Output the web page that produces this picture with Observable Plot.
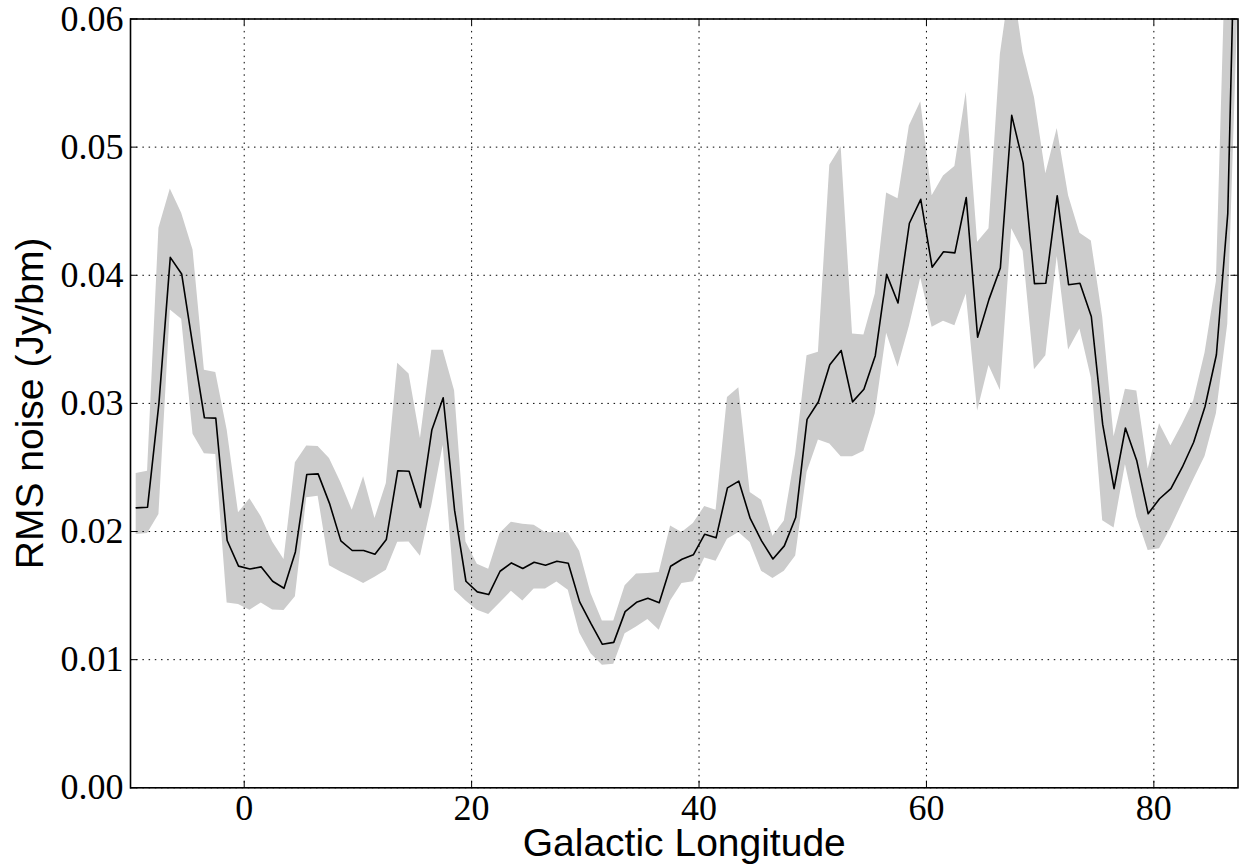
<!DOCTYPE html>
<html>
<head>
<meta charset="utf-8">
<script src="https://cdn.jsdelivr.net/npm/d3@7"></script>
<script src="https://cdn.jsdelivr.net/npm/@observablehq/plot@0.6"></script>
<style>html,body{margin:0;padding:0;background:#fff;overflow:hidden}svg{display:block}</style>
</head>
<body>
<div id="chart"></div>
<script>
const longitude = [-9.5,-8.5,-7.5,-6.5,-5.5,-4.5,-3.5,-2.5,-1.5,-0.5,0.5,1.5,2.5,3.5,4.5,5.5,6.5,7.5,8.5,9.5,10.5,11.5,12.5,13.5,14.5,15.5,16.5,17.5,18.5,19.5,20.5,21.5,22.5,23.5,24.5,25.5,26.5,27.5,28.5,29.5,30.5,31.5,32.5,33.5,34.5,35.5,36.5,37.5,38.5,39.5,40.5,41.5,42.5,43.5,44.5,45.5,46.5,47.5,48.5,49.5,50.5,51.5,52.5,53.5,54.5,55.5,56.5,57.5,58.5,59.5,60.5,61.5,62.5,63.5,64.5,65.5,66.5,67.5,68.5,69.5,70.5,71.5,72.5,73.5,74.5,75.5,76.5,77.5,78.5,79.5,80.5,81.5,82.5,83.5,84.5,85.5,86.5,87.5];
const rmsMean = [.02185,.0219,.03,.0414,.0401,.0344,.02888,.02885,.0193,.0173,.01708,.01724,.01612,.01557,.01841,.02445,.0245,.0222,.01927,.01852,.01852,.01823,.01938,.02474,.02471,.02188,.02792,.03044,.02167,.01612,.01529,.01508,.0169,.01755,.01711,.0176,.01737,.01768,.01753,.01451,.01281,.0112,.01135,.01375,.01448,.01479,.01445,.01729,.01784,.01818,.01979,.01951,.02341,.02393,.02102,.01927,.01786,.01888,.02109,.02875,.03013,.03302,.03413,.03012,.0311,.03372,.04007,.03784,.04406,.04593,.04063,.04183,.04175,.04607,.03517,.03812,.04057,.05248,.04877,.03935,.03938,.04621,.03926,.03938,.03678,.02836,.02335,.02808,.02552,.02139,.02256,.02335,.02502,.02697,.02976,.0338,.04481,.082];
const rmsUpper = [.02453,.02471,.04367,.04674,.04484,.04198,.03258,.03242,.02792,.02146,.02255,.02115,.01919,.01781,.02536,.02667,.02664,.0257,.02383,.02167,.02427,.02102,.02375,.03313,.03229,.02727,.03414,.03414,.03099,.01919,.01745,.01706,.01984,.02073,.02057,.02049,.01992,.0199,.0199,.01846,.01516,.01302,.01302,.01576,.01669,.01672,.0168,.02044,.01992,.02063,.02195,.02167,.03047,.03122,.02305,.02245,.01964,.02083,.02609,.03372,.034,.04858,.05003,.03542,.03533,.03854,.04643,.04598,.05164,.05354,.04621,.04774,.04849,.05429,.04258,.04364,.05722,.0635,.0574,.05387,.04793,.05145,.04621,.04328,.04267,.03673,.02739,.0311,.03096,.02488,.02842,.02669,.02836,.03018,.03394,.03952,.0705,.11];
const rmsLower = [.01977,.01984,.02133,.03729,.03656,.0276,.02607,.02602,.01443,.0143,.01385,.01443,.01388,.01383,.01492,.02263,.02276,.01732,.01685,.01641,.01594,.01643,.01698,.01917,.01919,.01807,.02206,.02674,.01542,.01458,.01385,.01352,.01443,.01534,.01458,.01552,.01552,.01607,.01542,.01208,.01047,.00956,.00964,.01203,.01255,.01313,.01229,.01458,.01594,.01609,.01794,.01768,.0194,.01992,.01914,.0169,.01633,.0169,.0181,.0246,.02714,.02683,.02583,.02583,.02627,.0292,.03547,.03282,.03603,.03979,.03595,.03642,.03606,.03854,.0294,.03296,.03101,.04364,.04188,.03263,.03372,.04147,.03416,.03581,.03199,.02084,.02028,.02524,.02112,.01852,.01866,.02028,.02217,.02404,.02585,.0292,.03617,.064];
const xTicks = [0,20,40,60,80];
const yTicks = [0,.01,.02,.03,.04,.05,.06];
const xLabel = "Galactic Longitude";
const yLabel = "RMS noise (Jy/bm)";

const rows = longitude.map((l,i)=>({l,mean:rmsMean[i],upper:rmsUpper[i],lower:rmsLower[i]}));
const serif = "'Liberation Serif', serif";
const sans = "'Liberation Sans', sans-serif";
const dash = "1.5 4.7";
const tickX = 0.62, tickY = 0.00052;
const xMin = -10, xMax = 87.4, yMax = 0.06;

const plot = Plot.plot({
  width: 1239, height: 867,
  marginLeft: 130, marginRight: 1.5, marginTop: 18.5, marginBottom: 79.7,
  x: {domain: [xMin, xMax]},
  y: {domain: [0, yMax]},
  marks: [
    Plot.areaY(rows, {x:"l", y1:"lower", y2:"upper", fill:"#cccccc", clip:true}),
    Plot.ruleX(xTicks, {stroke:"#000", strokeWidth:1, strokeDasharray:dash}),
    Plot.ruleY(yTicks, {stroke:"#000", strokeWidth:1, strokeDasharray:dash}),
    Plot.line(rows, {x:"l", y:"mean", stroke:"#000", strokeWidth:1.6, clip:true}),
    Plot.ruleX(xTicks, {y1:0, y2:tickY, stroke:"#000", strokeWidth:1}),
    Plot.ruleX(xTicks, {y1:yMax-tickY, y2:yMax, stroke:"#000", strokeWidth:1}),
    Plot.ruleY(yTicks, {x1:xMin, x2:xMin+tickX, stroke:"#000", strokeWidth:1}),
    Plot.ruleY(yTicks, {x1:xMax-tickX, x2:xMax, stroke:"#000", strokeWidth:1}),
    Plot.frame({stroke:"#000", strokeWidth:1.6}),
    Plot.axisX({ticks:xTicks, tickSize:0, tickPadding:7, label:null, fontSize:36, fontFamily:serif, tickFormat:d=>String(d)}),
    Plot.axisY({ticks:yTicks, tickSize:0, tickPadding:7, label:null, fontSize:36, fontFamily:serif, tickFormat:d=>d3.format(".2f")(d)}),
    Plot.text([xLabel], {frameAnchor:"bottom", dy:68, lineAnchor:"bottom", text:d=>d, fontSize:39, fontFamily:sans, fill:"#000"}),
    Plot.text([yLabel], {frameAnchor:"left", dx:-100, rotate:-90, textAnchor:"middle", text:d=>d, fontSize:39, fontFamily:sans, fill:"#000"})
  ]
});
document.getElementById("chart").appendChild(plot);
</script>
</body>
</html>
